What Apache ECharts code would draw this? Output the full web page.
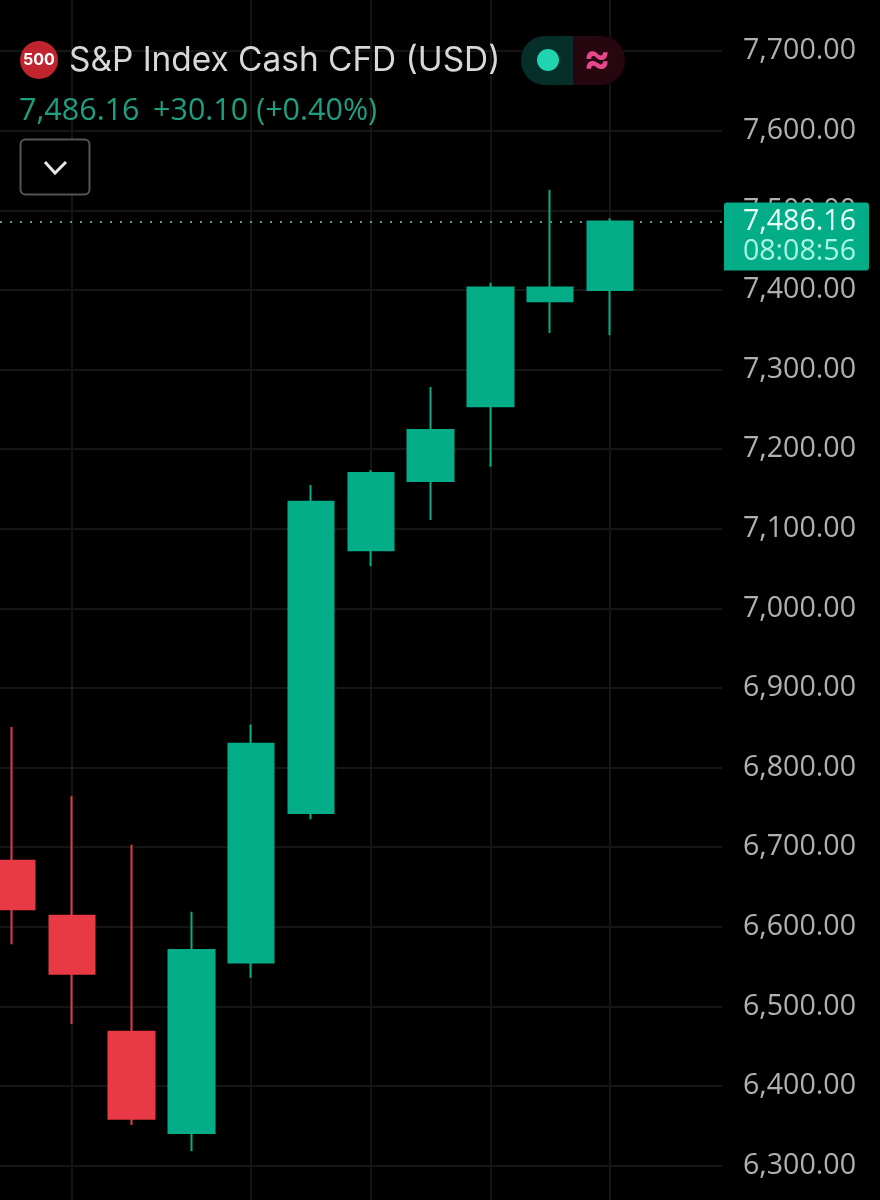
<!DOCTYPE html>
<html>
<head>
<meta charset="utf-8">
<style>
  html, body { margin: 0; padding: 0; background: #000; }
  #chart { width: 880px; height: 1200px; }
</style>
<script src="https://cdn.jsdelivr.net/npm/echarts@6/dist/echarts.min.js"></script>
</head>
<body>
<div id="chart"></div>
<script>
// candles
let categories = ['c1', 'c2', 'c3', 'c4', 'c5', 'c6', 'c7', 'c8', 'c9', 'c10', 'c11', 'c12', 'c13'];
let opens  = [6683, 6614, 6468, 6341, 6555, 6743, 7073, 7160, 7254, 7386, 7400];
let closes = [6622, 6541, 6359, 6571, 6830, 7134, 7170, 7224, 7403, 7403, 7486.16];
let lows   = [6578, 6478, 6351, 6318, 6536, 6735, 7053, 7111, 7178, 7346, 7343];
let highs  = [6851, 6764, 6703, 6619, 6854, 7155, 7174, 7278, 7409, 7526, 7490];
let vLines = ['c2', 'c5', 'c7', 'c9', 'c11'];

let lastPrice = 7486.16;
let countdown = '08:08:56';
let titleText = 'S&P Index Cash CFD (USD)';
let priceText = '7,486.16';
let changeText = '+30.10 (+0.40%)';

const FONT = 'Inter, sans-serif';
const NUMFONT = '"Open Sans", sans-serif';
const GREEN = '#02ad88';
const RED = '#e83a44';

// px: y(v) = 290 + (7400 - v) * 0.796
const gridTop = -28.4, gridH = 1273.6;

let candleData = opens.map((o, i) => [o, closes[i], lows[i], highs[i]]);

let chart = echarts.init(document.getElementById('chart'));

function headerGraphic() {
  return [
    { type: 'circle', z: 10, shape: { cx: 39, cy: 60, r: 19 }, style: { fill: '#c0242f' } },
    { type: 'text', z: 11, x: 39, y: 60, style: { text: '500', fill: '#fff', font: 'bold 16px ' + FONT, align: 'center', verticalAlign: 'middle' } },
    { type: 'text', z: 11, x: 69, y: 61, style: { text: titleText, fill: '#d8d8d8', font: '33.4px ' + FONT, verticalAlign: 'middle' } },
    { type: 'rect', z: 10, shape: { x: 521, y: 36, width: 52, height: 49, r: [24, 0, 0, 24] }, style: { fill: '#062f2a' } },
    { type: 'rect', z: 10, shape: { x: 573, y: 36, width: 52, height: 49, r: [0, 24, 24, 0] }, style: { fill: '#260710' } },
    { type: 'circle', z: 11, shape: { cx: 548, cy: 60, r: 11 }, style: { fill: '#1fd4ae' } },
    { type: 'text', z: 11, x: 597, y: 60, style: { text: '≈', fill: '#e8478b', font: 'bold 40px ' + FONT, align: 'center', verticalAlign: 'middle' } },
    { type: 'text', z: 11, x: 19, y: 111, style: { text: priceText, fill: '#1f9e80', font: '30.5px ' + NUMFONT, verticalAlign: 'middle' } },
    { type: 'text', z: 11, x: 153, y: 111, style: { text: changeText, fill: '#1f9e80', font: '30.5px ' + NUMFONT, verticalAlign: 'middle' } },
    { type: 'rect', z: 10, shape: { x: 20.5, y: 139.5, width: 69, height: 55, r: 5 }, style: { fill: '#000', stroke: '#555', lineWidth: 2 } },
    { type: 'polyline', z: 11, shape: { points: [[45, 162], [55, 173], [66, 162]] }, style: { fill: 'none', stroke: '#e6e6e6', lineWidth: 3 } }
  ];
}

chart.setOption({
  animation: false,
  backgroundColor: '#000',
  grid: [
    { left: -17.9, top: gridTop, width: 59.8 * 13, height: gridH, outerBoundsMode: 'none' },
    { left: 0, top: gridTop, width: 722, height: gridH, outerBoundsMode: 'none' }
  ],
  xAxis: [
    { type: 'category', gridIndex: 0, data: categories, show: false },
    { type: 'value', gridIndex: 1, min: 0, max: 1, show: false }
  ],
  yAxis: [
    { type: 'value', gridIndex: 0, min: 6200, max: 7800, interval: 100, show: false },
    {
      type: 'value', gridIndex: 1, min: 6200, max: 7800, interval: 100, position: 'right',
      axisLine: { show: false },
      axisTick: { show: false },
      splitLine: { lineStyle: { color: '#151515', width: 2 } },
      axisLabel: {
        margin: 21,
        color: '#b0b0b0',
        fontFamily: NUMFONT,
        fontSize: 28.6,
        formatter: v => v.toLocaleString('en-US', { minimumFractionDigits: 2, maximumFractionDigits: 2 })
      }
    }
  ],
  series: [
    {
      type: 'line', xAxisIndex: 0, yAxisIndex: 0, data: [], z: 1, silent: true,
      markLine: {
        z: 1, silent: true, symbol: 'none', label: { show: false },
        lineStyle: { color: '#151515', width: 2, type: 'solid' },
        data: vLines.map(c => ({ xAxis: c }))
      }
    },
    {
      type: 'line', xAxisIndex: 1, yAxisIndex: 1, data: [], z: 1, silent: true,
      markLine: {
        z: 1, silent: true, symbol: 'none', label: { show: false },
        lineStyle: { color: '#4f9f8c', width: 2, type: [2, 8] },
        data: [{ yAxis: lastPrice }]
      }
    },
    {
      type: 'candlestick', xAxisIndex: 0, yAxisIndex: 0, z: 2,
      data: candleData,
      barWidth: 46,
      itemStyle: { color: GREEN, color0: RED, borderColor: GREEN, borderColor0: RED, borderWidth: 2 }
    }
  ],
  graphic: headerGraphic()
});

// price tag sits on the last price
let tagY = chart.convertToPixel({ yAxisIndex: 1 }, lastPrice);
chart.setOption({
  graphic: headerGraphic().concat([
    { type: 'rect', z: 10, shape: { x: 724, y: tagY - 19, width: 145, height: 68, r: [3, 3, 3, 0] }, style: { fill: GREEN } },
    { type: 'text', z: 11, x: 856, y: tagY, style: { text: priceText, fill: '#e8fff8', font: '28.6px ' + NUMFONT, align: 'right', verticalAlign: 'middle' } },
    { type: 'text', z: 11, x: 856, y: tagY + 30, style: { text: countdown, fill: '#a8f5e0', font: '28.6px ' + NUMFONT, align: 'right', verticalAlign: 'middle' } }
  ])
});
</script>
</body>
</html>
